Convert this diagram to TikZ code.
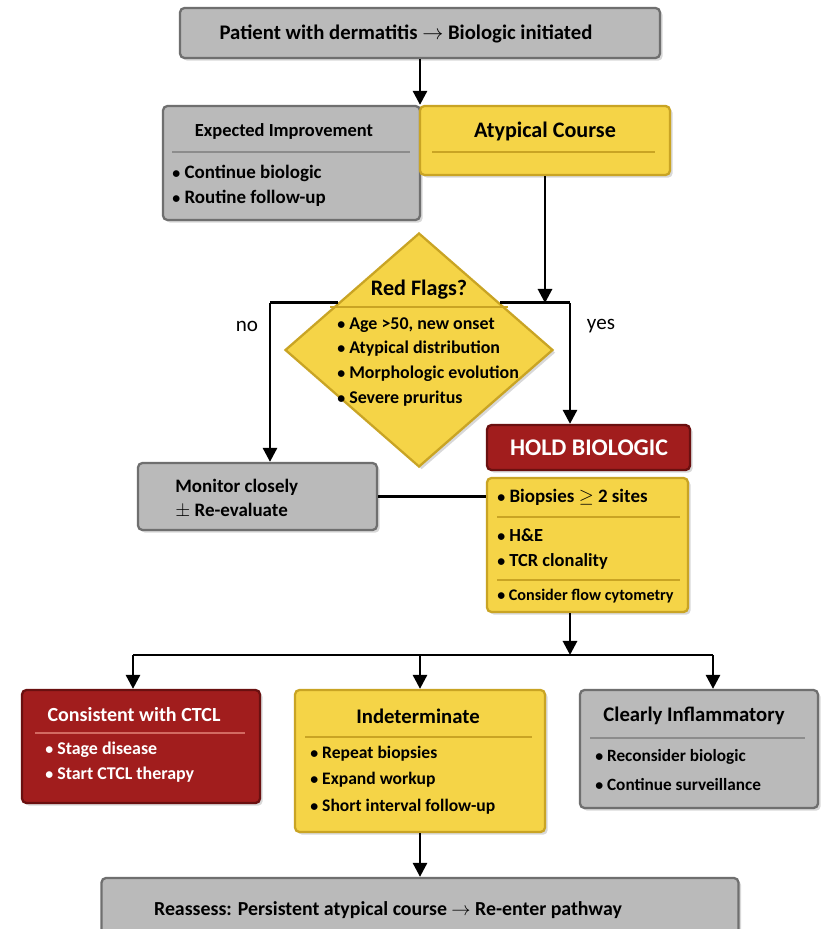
\documentclass[tikz,border=0pt]{standalone}
\usepackage{fontspec}
\setmainfont{Carlito}
\usetikzlibrary{positioning,shapes.geometric,arrows.meta,shadows,calc}

\definecolor{boxgray}{HTML}{BABABA}
\definecolor{edgegray}{HTML}{6F6F6F}
\definecolor{boxyellow}{HTML}{F5D447}
\definecolor{edgeyellow}{HTML}{C9A424}
\definecolor{boxred}{HTML}{A11D1D}
\definecolor{edgered}{HTML}{6A1010}
\definecolor{divred}{HTML}{D36A62}

\newcommand{\bul}{{\small\textbullet}\ }

\tikzset{
	box/.style={draw, line width=1.3pt, rounded corners=2.5pt, inner sep=0pt,
		drop shadow={shadow xshift=1.5pt, shadow yshift=-1.5pt, opacity=0.3}},
	graybox/.style={box, draw=edgegray, fill=boxgray},
	yellowbox/.style={box, draw=edgeyellow, fill=boxyellow},
	redbox/.style={box, draw=edgered, fill=boxred},
	head/.style={font=\bfseries\fontsize{11.8}{13}\selectfont, inner sep=0pt},
	item/.style={font=\bfseries\fontsize{10.2}{14.2}\selectfont, inner sep=0pt, anchor=west, align=left},
	divgray/.style={draw=edgegray!80, line width=0.9pt},
	divyellow/.style={draw=edgeyellow, line width=0.9pt},
	divred/.style={draw=divred, line width=0.9pt},
	link/.style={line width=1.6pt},
	arr/.style={link, -{Triangle[length=8pt, width=8pt]}},
}

\begin{document}
\begin{tikzpicture}[x=0.02cm, y=-0.02cm]
	\useasboundingbox[fill=white] (0,0) rectangle (826,929);

	\node[graybox, minimum width=9.6cm, minimum height=1.0cm] (start) at (420,33) {};
	\node[graybox, minimum width=5.14cm, minimum height=2.28cm] (expected) at (291.5,163) {};
	\node[yellowbox, minimum width=5.0cm, minimum height=1.38cm] (atypical) at (545,140.5) {};
	\node[diamond, draw=edgeyellow, fill=boxyellow, line width=1.3pt, inner sep=0pt,
		minimum width=5.36cm, minimum height=4.68cm,
		drop shadow={shadow xshift=1.5pt, shadow yshift=-1.5pt, opacity=0.3}] (flags) at (419,350) {};
	\node[redbox, minimum width=4.06cm, minimum height=0.9cm] (hold) at (588.5,447.5) {};
	\node[yellowbox, minimum width=4.02cm, minimum height=2.68cm] (biopsy) at (587.5,545) {};
	\node[graybox, minimum width=4.78cm, minimum height=1.34cm] (monitor) at (257.5,496.5) {};
	\node[redbox, minimum width=4.76cm, minimum height=2.26cm] (ctcl) at (141,746.5) {};
	\node[yellowbox, minimum width=5.0cm, minimum height=2.84cm] (indet) at (420,761) {};
	\node[graybox, minimum width=4.76cm, minimum height=2.36cm] (inflam) at (699,749) {};
	\node[graybox, minimum width=12.74cm, minimum height=1.34cm] (reassess) at (420,911.5) {};

	\node[head] (starttxt) at (406,34) {Patient with dermatitis $\rightarrow$ Biologic initiated};

	\node[head, font=\bfseries\fontsize{10.5}{12}\selectfont] (expectedtxt) at (284,131) {Expected Improvement};
	\draw[divgray] (172,152) -- (410,152);
	\node[item, font=\bfseries\fontsize{10.8}{14.2}\selectfont] (expecteditems) at (172,186) {\bul Continue biologic\\\bul Routine follow-up};

	\node[head, font=\bfseries\fontsize{12.6}{14}\selectfont] (atypicaltxt) at (545,131) {Atypical Course};
	\draw[divyellow] (432,152) -- (655,152);

	\node[head, font=\bfseries\fontsize{12.6}{14}\selectfont] (flagstxt) at (419,290) {Red Flags?};
	\draw[divyellow] (330,307) -- (508,307);
	\node[item] (flagsitems) at (337,362)
		{\bul Age >50, new onset\\\bul Atypical distribution\\\bul Morphologic evolution\\\bul Severe pruritus};

	\node[font=\fontsize{12}{14}\selectfont] (notxt) at (247,326) {no};
	\node[font=\fontsize{12}{14}\selectfont] (yestxt) at (601,326) {yes};

	\node[head, text=white, font=\bfseries\fontsize{13.6}{15}\selectfont] (holdtxt) at (589,448) {HOLD BIOLOGIC};

	\node[item, font=\bfseries\fontsize{10.8}{14}\selectfont] (biopsyone) at (497,497) {\bul Biopsies $\geq$ 2 sites};
	\draw[divyellow] (497,517) -- (680,517);
	\node[item, font=\bfseries\fontsize{10.5}{14.2}\selectfont] (biopsytwo) at (497,549) {\bul H\&E\\\bul TCR clonality};
	\draw[divyellow] (497,580) -- (680,580);
	\node[item, font=\bfseries\fontsize{9.2}{10}\selectfont] (biopsythree) at (497,596) {\bul Consider flow cytometry};

	\node[item, font=\bfseries\fontsize{10.8}{13.6}\selectfont] (monitortxt) at (175,499) {Monitor closely\\$\pm$ Re-evaluate};

	\node[head, text=white, font=\bfseries\fontsize{11.4}{13}\selectfont] (ctcltxt) at (134,715) {Consistent with CTCL};
	\draw[divred] (35,733) -- (245,733);
	\node[item, text=white] (ctclitems) at (45,762) {\bul Stage disease\\\bul Start CTCL therapy};

	\node[head] (indettxt) at (418,716) {Indeterminate};
	\draw[divyellow] (305,737) -- (532,737);
	\node[item, font=\bfseries\fontsize{10}{15}\selectfont] (indetitems) at (310,780)
		{\bul Repeat biopsies\\\bul Expand workup\\\bul Short interval follow-up};

	\node[head] (inflamtxt) at (694,716) {Clearly Inflammatory};
	\draw[divgray] (590,738) -- (805,738);
	\node[item, font=\bfseries\fontsize{9.8}{16.5}\selectfont] (inflamitems) at (595,770)
		{\bul Reconsider biologic\\\bul Continue surveillance};

	\node[head, font=\bfseries\fontsize{11.3}{13}\selectfont] (reassesstxt) at (388,910) {Reassess: Persistent atypical course $\rightarrow$ Re-enter pathway};

	\coordinate (yesturn) at (570,303);
	\coordinate (noturn) at (270,303);
	\coordinate (yesedge) at ($(flags.north)!0.6!(flags.east)$);
	\coordinate (noedge) at ($(flags.north)!0.6!(flags.west)$);
	\coordinate (split) at (570,655);
	\coordinate (leftbranch) at (133,655);
	\coordinate (rightbranch) at (713,655);

	\draw[arr] (start.south) -- (start.south |- atypical.north);
	\draw[arr] (atypical.south) -- (atypical.south |- yesturn);
	\draw[link] (yesedge) -- (yesedge -| yesturn);
	\draw[arr] (yesedge -| yesturn) -- (yesturn |- hold.north);
	\draw[link] (noedge) -- (noedge -| noturn);
	\draw[arr] (noedge -| noturn) -- (noturn |- monitor.north);
	\draw[link] (monitor.east) -- (monitor.east -| biopsy.west);
	\draw[arr] (split |- biopsy.south) -- (split);
	\draw[link] (leftbranch) -- (rightbranch);
	\draw[arr] (leftbranch) -- (leftbranch |- ctcl.north);
	\draw[arr] (indet.north |- split) -- (indet.north);
	\draw[arr] (rightbranch) -- (rightbranch |- inflam.north);
	\draw[arr] (indet.south) -- (indet.south |- reassess.north);
\end{tikzpicture}
\end{document}
